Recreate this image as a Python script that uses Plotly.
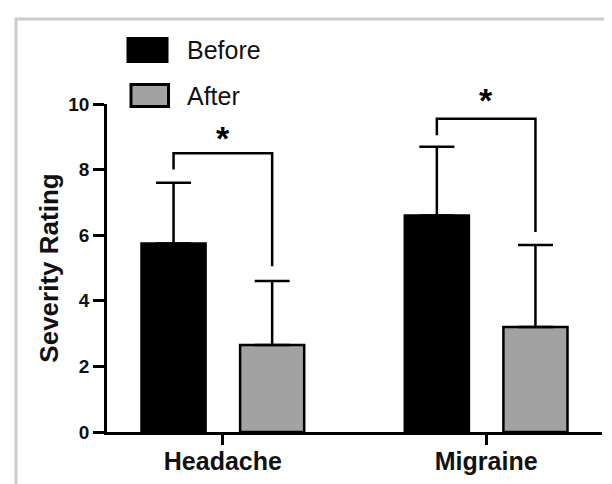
import plotly.graph_objects as go

# ---- data ----
categories = ["Headache", "Migraine"]
before_vals = [5.75, 6.6]
before_err = [1.85, 2.1]
after_vals = [2.65, 3.2]
after_err = [1.95, 2.5]

# significance brackets (data units)
sig_top = [8.5, 9.55]
sig_left_bottom = [8.0, 9.05]
sig_right_bottom = [5.05, 6.1]
sig_star_y = [9.1, 10.25]
sig_label = ["*", "*"]

y_ticks = [0, 2, 4, 6, 8, 10]
y_range = [0, 10]
legend_names = ["Before", "After"]

# ---- layout constants (page body has an 8px margin) ----
PAGE = 8
W, H = 604, 476
ML, MR, MT, MB = 99, 10, 96, 52
BARGAP = 0.251
BARGROUPGAP = 0.35
FONT = "Liberation Sans, Arial, sans-serif"
GRAY = "#a2a2a2"
TXT = "#111111"

plot_w = W - ML - MR
plot_h = H - MT - MB


def px_x(px):  # window pixel -> paper
    return (px - PAGE - ML) / plot_w


def px_y(py):
    return (H - MB - (py - PAGE)) / plot_h


def data_to_paper_y(v):
    return (v - y_range[0]) / (y_range[1] - y_range[0])


fig = go.Figure()
fig.add_trace(go.Bar(
    x=categories, y=before_vals, name=legend_names[0],
    marker=dict(color="black", line=dict(color="black", width=2.5)),
    error_y=dict(type="data", symmetric=False, array=before_err,
                 arrayminus=[0] * len(before_err), color="black",
                 thickness=2.5, width=17.5),
    showlegend=False,
))
fig.add_trace(go.Bar(
    x=categories, y=after_vals, name=legend_names[1],
    marker=dict(color=GRAY, line=dict(color="black", width=2.5)),
    error_y=dict(type="data", symmetric=False, array=after_err,
                 arrayminus=[0] * len(after_err), color="black",
                 thickness=2.5, width=17.5),
    showlegend=False,
))

# bar centre offset within a category (in category units)
offset = (1 - BARGAP) / 4

shapes = []
annotations = []
for i in range(len(categories)):
    xl = i - offset
    xr = i + offset
    shapes.append(dict(
        type="path", xref="x", yref="y",
        path=f"M {xl},{sig_left_bottom[i]} L {xl},{sig_top[i]} L {xr},{sig_top[i]} L {xr},{sig_right_bottom[i]}",
        line=dict(color="black", width=2.5),
    ))
    annotations.append(dict(
        x=i, y=data_to_paper_y(sig_star_y[i]), xref="x", yref="paper",
        text=f"<b>{sig_label[i]}</b>", yshift=-4,
        showarrow=False, font=dict(family=FONT, size=34, color="black"),
        xanchor="center", yanchor="middle",
    ))

# legend drawn manually (large swatches)
shapes.append(dict(type="rect", xref="paper", yref="paper",
                   x0=px_x(127.5), x1=px_x(167.5), y0=px_y(62), y1=px_y(38),
                   fillcolor="black", line=dict(color="black", width=2)))
shapes.append(dict(type="rect", xref="paper", yref="paper",
                   x0=px_x(131), x1=px_x(168.5), y0=px_y(106.5), y1=px_y(84.5),
                   fillcolor=GRAY, line=dict(color="black", width=3)))
annotations.append(dict(x=px_x(184.5), y=px_y(50), xref="paper", yref="paper",
                        text=legend_names[0], showarrow=False, xanchor="left", yanchor="middle",
                        font=dict(family=FONT, size=25, color=TXT)))
annotations.append(dict(x=px_x(184.5), y=px_y(95.5), xref="paper", yref="paper",
                        text=legend_names[1], showarrow=False, xanchor="left", yanchor="middle",
                        font=dict(family=FONT, size=25, color=TXT)))

# light grey frame (cropped rectangle)
shapes.append(dict(type="path", xref="paper", yref="paper",
                   path=f"M {px_x(16)},{px_y(500)} L {px_x(16)},{px_y(19)} L {px_x(630)},{px_y(19)}",
                   line=dict(color="#cccccc", width=3)))

fig.update_layout(
    width=W, height=H,
    margin=dict(l=ML, r=MR, t=MT, b=MB, autoexpand=False),
    barmode="group", bargap=BARGAP, bargroupgap=BARGROUPGAP,
    plot_bgcolor="white", paper_bgcolor="white",
    font=dict(family=FONT, color=TXT),
    shapes=shapes, annotations=annotations,
    showlegend=False,
)
fig.update_xaxes(
    range=[-0.44, 1.44], showline=True, linecolor="black", linewidth=2.5,
    ticks="outside", ticklen=10, tickwidth=2.5, tickcolor="black",
    ticklabelstandoff=-5,
    tickfont=dict(family=FONT, size=25, color=TXT, weight="bold"),
    showgrid=False, zeroline=False, automargin=False,
)
fig.update_yaxes(
    range=y_range, tickvals=y_ticks, showline=True, linecolor="black", linewidth=2.5,
    ticks="outside", ticklen=11, tickwidth=2.5, tickcolor="black",
    tickfont=dict(family=FONT, size=19, color=TXT, weight="bold"),
    showgrid=False, zeroline=False, automargin=False,
    title=dict(text="Severity Rating", standoff=3,
               font=dict(family=FONT, size=26, color=TXT, weight="bold")),
)

fig.write_html("out.html")
